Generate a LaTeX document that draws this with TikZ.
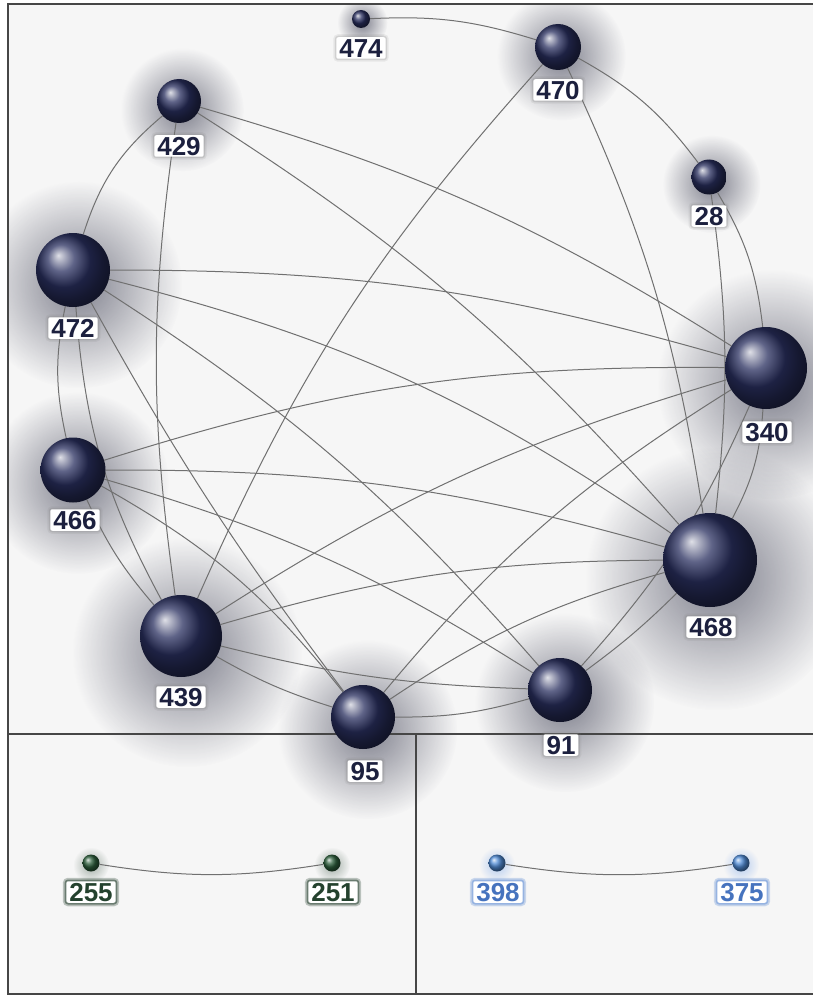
\documentclass[tikz,border=0pt]{standalone}
\usepackage{fontspec}
\setmainfont{Liberation Sans}
\usetikzlibrary{fadings}
\tikzfading[name=halofade, inner color=transparent!0, outer color=transparent!100]
\pgfdeclarelayer{halo}
\pgfdeclarelayer{edges}
\pgfsetlayers{halo,edges,main}
\definecolor{panelbg}{RGB}{246,246,246}
\definecolor{framecol}{RGB}{70,70,70}
\definecolor{edgecol}{RGB}{112,112,112}
\definecolor{navyball}{RGB}{42,48,96}
\definecolor{navytext}{RGB}{28,32,62}
\definecolor{greenball}{RGB}{45,95,60}
\definecolor{greentext}{RGB}{36,66,46}
\definecolor{blueball}{RGB}{80,140,215}
\definecolor{bluetext}{RGB}{70,115,190}
\definecolor{haloblue}{RGB}{120,165,235}
\definecolor{halocol}{RGB}{30,32,55}
\tikzset{
  sphere/.style={circle, inner sep=0pt, shading=ball, ball color=navyball},
  lab/.style={fill=white, rounded corners=2pt, inner xsep=3pt, inner ysep=1.5pt,
    text height=18.5pt, text depth=0pt, text=navytext,
    font=\fontsize{26}{27}\selectfont\bfseries,
    preaction={draw=gray, draw opacity=0.12, line width=6pt},
    preaction={draw=gray, draw opacity=0.22, line width=3pt}},
  greenlab/.style={lab, text=greentext,
    preaction={draw=greentext, draw opacity=0.25, line width=7pt},
    preaction={draw=greentext, draw opacity=0.45, line width=3.5pt}},
  bluelab/.style={lab, text=bluetext,
    preaction={draw=haloblue, draw opacity=0.3, line width=7pt},
    preaction={draw=haloblue, draw opacity=0.5, line width=3.5pt}},
  link/.style={draw=edgecol, line width=1pt},
  framestyle/.style={draw=framecol, line width=1.6pt},
}
\def\mainnodes{474/361/19/9/361/48,
470/558/47/23/558/90,
429/179/101/22/179/146,
28/709/177/17.5/709/216,
472/73/270/37/73/328,
340/766/368/41/767/432,
466/73/470/32.5/75/520,
468/710/560/47/711/627,
439/181/636/41/181/697,
91/560/690/32/561/745,
95/363/717/32/365/771}
\begin{document}
\begin{tikzpicture}[x=1pt, y=-1pt]
\useasboundingbox (0,0) rectangle (813,995);
% spheres and labels
\foreach \n/\x/\y/\r/\lx/\ly in \mainnodes {
  \node[sphere, minimum size=2*\r] (n\n) at (\x,\y) {};
  \node[lab] (l\n) at (\lx,\ly) {\n};
}
\node[sphere, ball color=greenball, minimum size=17] (n255) at (91,863) {};
\node[sphere, ball color=greenball, minimum size=17] (n251) at (332,863) {};
\node[sphere, ball color=blueball, minimum size=17] (n398) at (497,863) {};
\node[sphere, ball color=blueball, minimum size=17] (n375) at (741,863) {};
\node[greenlab] (l255) at (91,892) {255};
\node[greenlab] (l251) at (333,892) {251};
\node[bluelab] (l398) at (498,892) {398};
\node[bluelab] (l375) at (742,892) {375};

\begin{pgfonlayer}{halo}
  \fill[white] (0,0) rectangle (813,995);
  \fill[panelbg] (8,4) rectangle (813,995);
  \begin{scope}
    \clip (8,4) rectangle (813,995);
    \foreach \n/\x/\y/\r/\lx/\ly in \mainnodes {
      \fill[halocol, fill opacity=0.55, path fading=halofade]
        (\x+0.15*\r,\y+0.4*\r) circle[radius=2.8*\r];
    }
    \foreach \x in {91,332} \fill[greentext, fill opacity=0.4, path fading=halofade] (\x,865) circle[radius=18];
    \foreach \x in {497,741} \fill[haloblue, fill opacity=0.5, path fading=halofade] (\x,865) circle[radius=18];
  \end{scope}
\end{pgfonlayer}

\begin{pgfonlayer}{edges}
  \draw[framestyle] (813,4) -- (8,4) -- (8,994) -- (813,994);
  \draw[framestyle] (8,734) -- (813,734);
  \draw[framestyle] (416,734) -- (416,994);
  % edges of the main graph
  \draw[link] (n474) to[bend left=10] (n470);
  \draw[link] (n470) to[bend left=12] (n28);
  \draw[link] (n439) to[bend left=9] (n470);
  \draw[link] (n470) to[bend left=8] (n468);
  \draw[link] (n28) to[bend left=12] (n340);
  \draw[link] (n28) to[bend left=7] (n468);
  \draw[link] (n472) to[bend left=16] (n429);
  \draw[link] (n439) to[bend left=8] (n429);
  \draw[link] (n429) to[bend left=8] (n340);
  \draw[link] (n429) to[bend left=8] (n468);
  \draw[link] (n472) to[bend left=8] (n340);
  \draw[link] (n472) to[bend left=10] (n468);
  \draw[link] (n472) to[bend left=8] (n91);
  \draw[link] (n472) to[bend right=4] (n95);
  \draw[link] (n466) to[bend left=12] (n472);
  \draw[link] (n439) to[bend left=12] (n472);
  \draw[link] (n466) to[bend left=9] (n340);
  \draw[link] (n466) to[bend left=8] (n468);
  \draw[link] (n466) to[bend left=8] (n91);
  \draw[link] (n466) to[bend left=11] (n95);
  \draw[link] (n439) to[bend left=8] (n466);
  \draw[link] (n439) to[bend left=8] (n340);
  \draw[link] (n439) to[bend left=8] (n468);
  \draw[link] (n91) to[bend left=6] (n439);
  \draw[link] (n95) to[bend left=6] (n439);
  \draw[link] (n95) to[bend left=9] (n340);
  \draw[link] (n95) to[bend left=9] (n468);
  \draw[link] (n91) to[bend left=8] (n95);
  \draw[link] (n468) to[bend left=4] (n91);
  \draw[link] (n340) to[bend left=9] (n91);
  \draw[link] (n340) to[bend left=12] (n468);
  % small components
  \draw[link] (n255) to[bend right=9] (n251);
  \draw[link] (n398) to[bend right=9] (n375);
\end{pgfonlayer}
\end{tikzpicture}
\end{document}
